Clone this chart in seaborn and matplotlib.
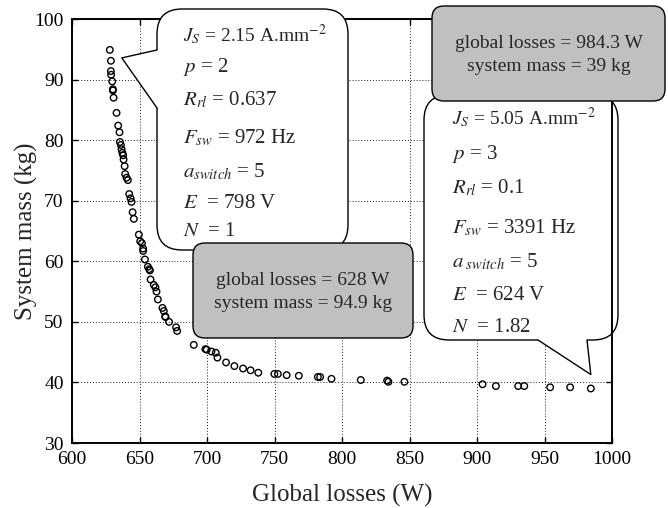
import numpy as np
import pandas as pd
import seaborn as sns
import matplotlib
matplotlib.use("Agg")
import matplotlib.pyplot as plt
from matplotlib.patches import FancyBboxPatch, Polygon
from matplotlib.lines import Line2D
from matplotlib.transforms import IdentityTransform

# ============ Data ============
global_losses = [
    628.0, 628.8, 628.8, 629.0, 629.8, 630.3, 630.3, 630.8, 633.0, 634.2,
    635.2, 635.5, 636.2, 636.7, 637.3, 637.9, 638.2, 639.0, 639.4, 640.4,
    641.4, 642.4, 643.4, 644.1, 644.9, 645.8, 649.5, 650.5, 651.8, 652.7,
    652.7, 654.0, 656.2, 657.2, 657.7, 658.2, 660.6, 661.8, 662.6, 663.6,
    667.0, 668.0, 669.0, 669.3, 671.9, 677.1, 677.9, 690.2, 698.8, 699.8,
    703.3, 706.5, 707.7, 714.1, 720.3, 726.7, 732.3, 738.0, 749.9, 752.5,
    759.0, 768.0, 782.1, 783.8, 792.2, 813.9, 833.4, 834.4, 846.2, 904.1,
    914.0, 930.5, 935.0, 954.2, 969.0, 984.3,
]
system_mass = [
    94.9, 93.1, 91.4, 90.8, 89.7, 88.4, 88.2, 87.0, 84.5, 82.4,
    81.3, 79.7, 79.2, 78.5, 77.9, 77.5, 76.8, 75.7, 74.4, 73.8,
    73.4, 71.1, 70.4, 69.8, 68.1, 67.0, 64.4, 63.3, 63.0, 62.1,
    61.7, 60.3, 59.1, 58.7, 58.5, 57.0, 56.1, 55.7, 55.0, 53.7,
    52.3, 51.8, 50.9, 50.8, 50.0, 49.1, 48.5, 46.2, 45.5, 45.4,
    45.1, 44.9, 44.1, 43.3, 42.7, 42.3, 42.0, 41.6, 41.4, 41.4,
    41.2, 41.1, 40.9, 40.9, 40.6, 40.4, 40.3, 40.1, 40.1, 39.7,
    39.4, 39.4, 39.4, 39.2, 39.2, 39.0,
]

x_ticks = [600, 650, 700, 750, 800, 850, 900, 950, 1000]
y_ticks = [30, 40, 50, 60, 70, 80, 90, 100]

# annotated designs: (losses, mass)
low_loss_point = (628.0, 94.9)
low_mass_point = (984.3, 39.0)

low_loss_summary = "global losses = 628 W\nsystem mass = 94.9 kg"
low_mass_summary = "global losses = 984.3 W\nsystem mass = 39 kg"

low_loss_params = [
    r"$J_{S}$ = 2.15 A.mm$^{-2}$",
    r"$p$ = 2",
    r"$R_{rl}$ = 0.637",
    r"$F_{sw}$ = 972 Hz",
    r"$a_{switch}$ = 5",
    r"$E$  = 798 V",
    r"$N$  = 1",
]
low_mass_params = [
    r"$J_{S}$ = 5.05 A.mm$^{-2}$",
    r"$p$ = 3",
    r"$R_{rl}$ = 0.1",
    r"$F_{sw}$ = 3391 Hz",
    r"$a_{\ switch}$ = 5",
    r"$E$  = 624 V",
    r"$N$  = 1.82",
]

# ============ Figure ============
W, H = 668, 508
sns.set_style("ticks")
plt.rcParams["font.family"] = ["Liberation Serif", "DejaVu Serif"]
plt.rcParams["mathtext.fontset"] = "stix"

fig = plt.figure(figsize=(W / 100, H / 100), dpi=100)
ax = fig.add_axes([72 / W, 1 - 443 / H, 540 / W, 424 / H])

df = pd.DataFrame({"losses": global_losses, "mass": system_mass})
sns.scatterplot(data=df, x="losses", y="mass", ax=ax, s=22, marker="o",
                facecolor="none", edgecolor="black", linewidth=1.0, zorder=3)

ax.set_xlim(600, 1000)
ax.set_ylim(30, 100)
ax.set_xticks(x_ticks)
ax.set_yticks(y_ticks)
ax.grid(True, color="#222222", linestyle=(0, (1, 2)), linewidth=0.7)
ax.tick_params(direction="in", top=True, right=True, length=4, width=1,
               labelsize=14, colors="black")
ax.tick_params(axis="x", pad=6)
ax.tick_params(axis="y", pad=6)
for sp in ax.spines.values():
    sp.set_linewidth(1.4)
    sp.set_color("black")
ax.set_xlabel("Global losses (W)", fontsize=18, labelpad=11)
ax.set_ylabel("System mass (kg)", fontsize=18, labelpad=-3)

ident = IdentityTransform()


def to_disp(px, py):
    return (px, H - py)


def rounded_box(x0, y0, x1, y1, face, z, r):
    box = FancyBboxPatch(to_disp(x0, y1), x1 - x0, y1 - y0,
                         boxstyle=f"round,pad=0,rounding_size={r}",
                         transform=ident, facecolor=face, edgecolor="black",
                         linewidth=1.0, clip_on=False, zorder=z)
    ax.add_patch(box)


def bubble(x0, y0, x1, y1, base1, base2, tip, z, r=25):
    rounded_box(x0, y0, x1, y1, "white", z, r)
    def inward(p):
        if p[0] in (x0, x1):
            return (p[0] + (3 if p[0] == x0 else -3), p[1])
        return (p[0], p[1] + (3 if p[1] == y0 else -3))
    pts = [inward(base1), base1, tip, base2, inward(base2)]
    ax.add_patch(Polygon([to_disp(*p) for p in pts], closed=True,
                         transform=ident, facecolor="white", edgecolor="none",
                         clip_on=False, zorder=z + 0.01))
    xs, ys = zip(*[to_disp(*p) for p in (base1, tip, base2)])
    ax.add_line(Line2D(xs, ys, transform=ident, color="black", linewidth=1.0,
                       clip_on=False, zorder=z + 0.02))


def point_px(pt):
    dx, dy = ax.transData.transform(pt)
    return dx, H - dy


# tail tips sit next to the annotated points
lx, ly = point_px(low_loss_point)
mx, my = point_px(low_mass_point)

bubble(157, 9, 348, 250, (157, 50), (157, 108), (lx + 12, ly + 8), z=5)
bubble(424, 95, 618, 340, (538, 340), (587, 340), (mx, my - 14), z=2)

rounded_box(193, 243, 413, 338, "#c0c0c0", 6, 12)
rounded_box(432, 6, 665, 101, "#c0c0c0", 6, 12)

ax.text(*to_disp(303, 292), low_loss_summary, transform=ident, ha="center",
        va="center", fontsize=14, linespacing=1.4, zorder=7)
ax.text(*to_disp(549, 55), low_mass_summary, transform=ident, ha="center",
        va="center", fontsize=14, linespacing=1.4, zorder=7)

for i, (txt, py) in enumerate(zip(low_loss_params, [35, 67, 100, 138, 172, 203, 232])):
    ax.text(*to_disp(183, py), txt, transform=ident, ha="left", va="center",
            fontsize=14 if i == 0 else 15, zorder=6)
for i, (txt, py) in enumerate(zip(low_mass_params, [118, 154, 188, 228, 262, 295, 328])):
    ax.text(*to_disp(452, py), txt, transform=ident, ha="left", va="center",
            fontsize=14 if i == 0 else 15, zorder=3)

fig.savefig("out.png", dpi=100)
